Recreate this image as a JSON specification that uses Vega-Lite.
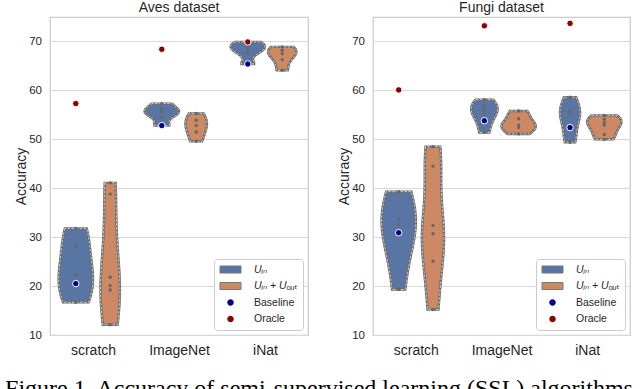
{
  "$schema": "https://vega.github.io/schema/vega-lite/v6.json",
  "padding": {"left": 5, "top": 0, "right": 0, "bottom": 0},
  "config": {
    "font": "Liberation Sans",
    "view": {"stroke": "#cccccc", "strokeWidth": 1.25},
    "axis": {"labelFont": "Liberation Sans", "labelFontSize": 11.5, "labelColor": "#262626", "titleFont": "Liberation Sans", "titleFontSize": 14, "titleFontWeight": "normal", "titleColor": "#262626", "gridColor": "#d9d9d9", "gridWidth": 1, "tickSize": 0},
    "axisX": {"labelFontSize": 14},
    "title": {"font": "Liberation Sans", "fontSize": 14, "fontWeight": "normal", "color": "#262626", "offset": 2},
    "legend": {"title": null, "orient": "bottom-right", "offset": 5, "fillColor": "white", "strokeColor": "#cccccc", "cornerRadius": 3, "padding": 5,
      "labelFont": "Liberation Sans, DejaVu Sans", "labelFontSize": 10.5, "labelColor": "#262626", "symbolSize": 100, "symbolOffset": 6, "labelOffset": 18, "rowPadding": 5.5, "symbolStrokeWidth": 1,
      "symbolType": {"expr": "(datum.value === 'Baseline' || datum.value === 'Oracle') ? 'M-0.65,0A0.65,0.65 0 1,0 0.65,0A0.65,0.65 0 1,0 -0.65,0Z' : 'M-2.1,-0.7H2.1V0.7H-2.1Z'"},
      "symbolStrokeColor": {"expr": "(datum.value === 'Baseline' || datum.value === 'Oracle') ? 'transparent' : '#777777'"},
      "labelFontStyle": {"expr": "(datum.value === 'Baseline' || datum.value === 'Oracle') ? 'normal' : 'italic'"}
    }
  },
  "datasets": {
    "obs": [
      {"panel": "Aves", "cat": "scratch", "hue": "U_in", "acc": 31.8},
      {"panel": "Aves", "cat": "scratch", "hue": "U_in", "acc": 28.1},
      {"panel": "Aves", "cat": "scratch", "hue": "U_in", "acc": 22.3},
      {"panel": "Aves", "cat": "scratch", "hue": "U_in", "acc": 20.5},
      {"panel": "Aves", "cat": "scratch", "hue": "U_in", "acc": 16.7},
      {"panel": "Aves", "cat": "scratch", "hue": "U_in + U_out", "acc": 41.1},
      {"panel": "Aves", "cat": "scratch", "hue": "U_in + U_out", "acc": 38.8},
      {"panel": "Aves", "cat": "scratch", "hue": "U_in + U_out", "acc": 21.8},
      {"panel": "Aves", "cat": "scratch", "hue": "U_in + U_out", "acc": 20.1},
      {"panel": "Aves", "cat": "scratch", "hue": "U_in + U_out", "acc": 19.2},
      {"panel": "Aves", "cat": "scratch", "hue": "U_in + U_out", "acc": 12.1},
      {"panel": "Aves", "cat": "ImageNet", "hue": "U_in", "acc": 57.3},
      {"panel": "Aves", "cat": "ImageNet", "hue": "U_in", "acc": 56.1},
      {"panel": "Aves", "cat": "ImageNet", "hue": "U_in", "acc": 55.6},
      {"panel": "Aves", "cat": "ImageNet", "hue": "U_in", "acc": 54.7},
      {"panel": "Aves", "cat": "ImageNet", "hue": "U_in", "acc": 52.8},
      {"panel": "Aves", "cat": "ImageNet", "hue": "U_in + U_out", "acc": 55.3},
      {"panel": "Aves", "cat": "ImageNet", "hue": "U_in + U_out", "acc": 53.9},
      {"panel": "Aves", "cat": "ImageNet", "hue": "U_in + U_out", "acc": 52.8},
      {"panel": "Aves", "cat": "ImageNet", "hue": "U_in + U_out", "acc": 51.5},
      {"panel": "Aves", "cat": "ImageNet", "hue": "U_in + U_out", "acc": 49.6},
      {"panel": "Aves", "cat": "iNat", "hue": "U_in", "acc": 69.9},
      {"panel": "Aves", "cat": "iNat", "hue": "U_in", "acc": 69.2},
      {"panel": "Aves", "cat": "iNat", "hue": "U_in", "acc": 68.6},
      {"panel": "Aves", "cat": "iNat", "hue": "U_in", "acc": 67.7},
      {"panel": "Aves", "cat": "iNat", "hue": "U_in", "acc": 65.4},
      {"panel": "Aves", "cat": "iNat", "hue": "U_in + U_out", "acc": 68.9},
      {"panel": "Aves", "cat": "iNat", "hue": "U_in + U_out", "acc": 68.2},
      {"panel": "Aves", "cat": "iNat", "hue": "U_in + U_out", "acc": 67.5},
      {"panel": "Aves", "cat": "iNat", "hue": "U_in + U_out", "acc": 66.3},
      {"panel": "Aves", "cat": "iNat", "hue": "U_in + U_out", "acc": 64.1},
      {"panel": "Fungi", "cat": "scratch", "hue": "U_in", "acc": 39.3},
      {"panel": "Fungi", "cat": "scratch", "hue": "U_in", "acc": 33.6},
      {"panel": "Fungi", "cat": "scratch", "hue": "U_in", "acc": 32.6},
      {"panel": "Fungi", "cat": "scratch", "hue": "U_in", "acc": 30.9},
      {"panel": "Fungi", "cat": "scratch", "hue": "U_in", "acc": 19.3},
      {"panel": "Fungi", "cat": "scratch", "hue": "U_in + U_out", "acc": 48.5},
      {"panel": "Fungi", "cat": "scratch", "hue": "U_in + U_out", "acc": 44.5},
      {"panel": "Fungi", "cat": "scratch", "hue": "U_in + U_out", "acc": 32.4},
      {"panel": "Fungi", "cat": "scratch", "hue": "U_in + U_out", "acc": 30.7},
      {"panel": "Fungi", "cat": "scratch", "hue": "U_in + U_out", "acc": 25.1},
      {"panel": "Fungi", "cat": "scratch", "hue": "U_in + U_out", "acc": 15.2},
      {"panel": "Fungi", "cat": "ImageNet", "hue": "U_in", "acc": 58.1},
      {"panel": "Fungi", "cat": "ImageNet", "hue": "U_in", "acc": 56.9},
      {"panel": "Fungi", "cat": "ImageNet", "hue": "U_in", "acc": 56.2},
      {"panel": "Fungi", "cat": "ImageNet", "hue": "U_in", "acc": 55.2},
      {"panel": "Fungi", "cat": "ImageNet", "hue": "U_in", "acc": 53.8},
      {"panel": "Fungi", "cat": "ImageNet", "hue": "U_in", "acc": 51.4},
      {"panel": "Fungi", "cat": "ImageNet", "hue": "U_in + U_out", "acc": 55.8},
      {"panel": "Fungi", "cat": "ImageNet", "hue": "U_in + U_out", "acc": 54.2},
      {"panel": "Fungi", "cat": "ImageNet", "hue": "U_in + U_out", "acc": 52.9},
      {"panel": "Fungi", "cat": "ImageNet", "hue": "U_in + U_out", "acc": 52.4},
      {"panel": "Fungi", "cat": "ImageNet", "hue": "U_in + U_out", "acc": 51.1},
      {"panel": "Fungi", "cat": "iNat", "hue": "U_in", "acc": 58.6},
      {"panel": "Fungi", "cat": "iNat", "hue": "U_in", "acc": 55.8},
      {"panel": "Fungi", "cat": "iNat", "hue": "U_in", "acc": 55.2},
      {"panel": "Fungi", "cat": "iNat", "hue": "U_in", "acc": 52.4},
      {"panel": "Fungi", "cat": "iNat", "hue": "U_in", "acc": 49.4},
      {"panel": "Fungi", "cat": "iNat", "hue": "U_in + U_out", "acc": 54.9},
      {"panel": "Fungi", "cat": "iNat", "hue": "U_in + U_out", "acc": 54.1},
      {"panel": "Fungi", "cat": "iNat", "hue": "U_in + U_out", "acc": 53.4},
      {"panel": "Fungi", "cat": "iNat", "hue": "U_in + U_out", "acc": 52.9},
      {"panel": "Fungi", "cat": "iNat", "hue": "U_in + U_out", "acc": 51.0},
      {"panel": "Fungi", "cat": "iNat", "hue": "U_in + U_out", "acc": 50.0}
    ],
    "ref": [
      {"panel": "Aves", "cat": "scratch", "kind": "Baseline", "acc": 20.5},
      {"panel": "Aves", "cat": "scratch", "kind": "Oracle", "acc": 57.3},
      {"panel": "Aves", "cat": "ImageNet", "kind": "Baseline", "acc": 52.8},
      {"panel": "Aves", "cat": "ImageNet", "kind": "Oracle", "acc": 68.4},
      {"panel": "Aves", "cat": "iNat", "kind": "Baseline", "acc": 65.4},
      {"panel": "Aves", "cat": "iNat", "kind": "Oracle", "acc": 69.9},
      {"panel": "Fungi", "cat": "scratch", "kind": "Baseline", "acc": 30.9},
      {"panel": "Fungi", "cat": "scratch", "kind": "Oracle", "acc": 60.1},
      {"panel": "Fungi", "cat": "ImageNet", "kind": "Baseline", "acc": 53.8},
      {"panel": "Fungi", "cat": "ImageNet", "kind": "Oracle", "acc": 73.2},
      {"panel": "Fungi", "cat": "iNat", "kind": "Baseline", "acc": 52.4},
      {"panel": "Fungi", "cat": "iNat", "kind": "Oracle", "acc": 73.7}
    ]
  },
  "title": {"text": "Figure 1. Accuracy of semi-supervised learning (SSL) algorithms", "orient": "bottom", "anchor": "start", "font": "Liberation Serif", "fontSize": 24, "fontWeight": "normal", "color": "#000000", "offset": 19},
  "spacing": 28,
  "resolve": {"scale": {"color": "independent", "x": "independent", "y": "independent"}, "legend": {"color": "independent"}},
  "hconcat": [
    {
      "width": 258, "height": 318,
      "title": {"text": "Aves dataset"},
      "layer": [
        {
          "data": {"name": "obs"},
          "transform": [
            {"filter": "datum.panel === 'Aves'"},
            {"density": "acc", "groupby": ["cat", "hue"], "steps": 100, "resolve": "independent", "as": ["acc", "density"]},
            {"joinaggregate": [{"op": "max", "field": "density", "as": "dmax"}], "groupby": ["cat"]},
            {"calculate": "indexof(['scratch','ImageNet','iNat'], datum.cat) + (datum.hue === 'U_in' ? -0.2 : 0.2)", "as": "center"},
            {"calculate": "datum.center - 0.2 * datum.density / datum.dmax", "as": "lo"},
            {"calculate": "datum.center + 0.2 * datum.density / datum.dmax", "as": "hi"}
          ],
          "layer": [
            {
              "mark": {"type": "area", "orient": "horizontal", "stroke": "#6a6a6a", "strokeWidth": 2.4, "opacity": 1},
              "encoding": {
                "y": {"field": "acc", "type": "quantitative", "title": ["", "Accuracy"], "scale": {"domain": [10, 75], "nice": false, "zero": false}, "axis": {"values": [10, 20, 30, 40, 50, 60, 70], "ticks": false, "domain": false, "labelPadding": 8.5, "titlePadding": 0, "titleLineHeight": 9, "grid": true}},
                "x": {"field": "lo", "type": "quantitative", "stack": null, "title": null, "scale": {"domain": [-0.5, 2.5], "nice": false, "zero": false}, "axis": {"values": [0, 1, 2], "labelExpr": "['scratch','ImageNet','iNat'][datum.value]", "ticks": false, "domain": false, "grid": false, "labelPadding": 8}},
                "x2": {"field": "hi"},
                "detail": {"field": "cat"},
                "color": {"field": "hue", "type": "nominal",
                  "scale": {"domain": ["U_in", "U_in + U_out", "Baseline", "Oracle"], "range": ["#5975a4", "#cc8963", "#00008b", "#8b0000"]},
                  "legend": {"labelExpr": "datum.label === 'U_in' ? 'Uᵢₙ' : datum.label === 'U_in + U_out' ? 'Uᵢₙ + Uₒᵤₜ' : datum.label"}
                }
              }
            },
            {
              "mark": {"type": "area", "orient": "horizontal", "fillOpacity": 0, "stroke": "#ffffff", "strokeWidth": 0.7, "strokeDash": [2.5, 1.5]},
              "encoding": {
                "y": {"field": "acc", "type": "quantitative"},
                "x": {"field": "lo", "type": "quantitative", "stack": null},
                "x2": {"field": "hi"},
                "detail": [{"field": "cat"}, {"field": "hue"}]
              }
            }
          ]
        },
        {
          "data": {"name": "obs"},
          "transform": [
            {"filter": "datum.panel === 'Aves'"},
            {"calculate": "indexof(['scratch','ImageNet','iNat'], datum.cat) + (datum.hue === 'U_in' ? -0.2 : 0.2)", "as": "center"}
          ],
          "mark": {"type": "circle", "size": 11, "color": "#666666", "opacity": 1},
          "encoding": {
            "x": {"field": "center", "type": "quantitative"},
            "y": {"field": "acc", "type": "quantitative"}
          }
        },
        {
          "data": {"name": "ref"},
          "transform": [
            {"filter": "datum.panel === 'Aves'"},
            {"calculate": "indexof(['scratch','ImageNet','iNat'], datum.cat) - 0.2", "as": "center"}
          ],
          "mark": {"type": "circle", "size": 42, "stroke": "white", "strokeWidth": 1, "opacity": 1},
          "encoding": {
            "x": {"field": "center", "type": "quantitative"},
            "y": {"field": "acc", "type": "quantitative"},
            "color": {"field": "kind", "type": "nominal"}
          }
        }
      ]
    },
    {
      "width": 257, "height": 318,
      "title": {"text": "Fungi dataset"},
      "layer": [
        {
          "data": {"name": "obs"},
          "transform": [
            {"filter": "datum.panel === 'Fungi' && datum.cat === 'scratch'"},
            {"density": "acc", "groupby": ["cat", "hue"], "steps": 100, "bandwidth": 6.5, "resolve": "independent", "as": ["acc", "density"]},
            {"joinaggregate": [{"op": "max", "field": "density", "as": "dmax"}], "groupby": ["cat"]},
            {"calculate": "indexof(['scratch','ImageNet','iNat'], datum.cat) + (datum.hue === 'U_in' ? -0.2 : 0.2)", "as": "center"},
            {"calculate": "datum.center - 0.2 * datum.density / datum.dmax", "as": "lo"},
            {"calculate": "datum.center + 0.2 * datum.density / datum.dmax", "as": "hi"}
          ],
          "layer": [
            {
              "mark": {"type": "area", "orient": "horizontal", "stroke": "#6a6a6a", "strokeWidth": 2.4, "opacity": 1},
              "encoding": {
                "y": {"field": "acc", "type": "quantitative", "title": "Accuracy", "scale": {"domain": [10, 75], "nice": false, "zero": false}, "axis": {"values": [10, 20, 30, 40, 50, 60, 70], "ticks": false, "domain": false, "labelPadding": 8.5, "titlePadding": 0, "grid": true}},
                "x": {"field": "lo", "type": "quantitative", "stack": null, "title": null, "scale": {"domain": [-0.5, 2.5], "nice": false, "zero": false}, "axis": {"values": [0, 1, 2], "labelExpr": "['scratch','ImageNet','iNat'][datum.value]", "ticks": false, "domain": false, "grid": false, "labelPadding": 8}},
                "x2": {"field": "hi"},
                "detail": {"field": "cat"},
                "color": {"field": "hue", "type": "nominal",
                  "scale": {"domain": ["U_in", "U_in + U_out", "Baseline", "Oracle"], "range": ["#5975a4", "#cc8963", "#00008b", "#8b0000"]},
                  "legend": {"labelExpr": "datum.label === 'U_in' ? 'Uᵢₙ' : datum.label === 'U_in + U_out' ? 'Uᵢₙ + Uₒᵤₜ' : datum.label"}
                }
              }
            },
            {
              "mark": {"type": "area", "orient": "horizontal", "fillOpacity": 0, "stroke": "#ffffff", "strokeWidth": 0.7, "strokeDash": [2.5, 1.5]},
              "encoding": {
                "y": {"field": "acc", "type": "quantitative"},
                "x": {"field": "lo", "type": "quantitative", "stack": null},
                "x2": {"field": "hi"},
                "detail": [{"field": "cat"}, {"field": "hue"}]
              }
            }
          ]
        },
        {
          "data": {"name": "obs"},
          "transform": [
            {"filter": "datum.panel === 'Fungi' && datum.cat !== 'scratch'"},
            {"density": "acc", "groupby": ["cat", "hue"], "steps": 100, "resolve": "independent", "as": ["acc", "density"]},
            {"joinaggregate": [{"op": "max", "field": "density", "as": "dmax"}], "groupby": ["cat"]},
            {"calculate": "indexof(['scratch','ImageNet','iNat'], datum.cat) + (datum.hue === 'U_in' ? -0.2 : 0.2)", "as": "center"},
            {"calculate": "datum.center - 0.2 * datum.density / datum.dmax", "as": "lo"},
            {"calculate": "datum.center + 0.2 * datum.density / datum.dmax", "as": "hi"}
          ],
          "layer": [
            {
              "mark": {"type": "area", "orient": "horizontal", "stroke": "#6a6a6a", "strokeWidth": 2.4, "opacity": 1},
              "encoding": {
                "y": {"field": "acc", "type": "quantitative"},
                "x": {"field": "lo", "type": "quantitative", "stack": null},
                "x2": {"field": "hi"},
                "detail": {"field": "cat"},
                "color": {"field": "hue", "type": "nominal"}
              }
            },
            {
              "mark": {"type": "area", "orient": "horizontal", "fillOpacity": 0, "stroke": "#ffffff", "strokeWidth": 0.7, "strokeDash": [2.5, 1.5]},
              "encoding": {
                "y": {"field": "acc", "type": "quantitative"},
                "x": {"field": "lo", "type": "quantitative", "stack": null},
                "x2": {"field": "hi"},
                "detail": [{"field": "cat"}, {"field": "hue"}]
              }
            }
          ]
        },
        {
          "data": {"name": "obs"},
          "transform": [
            {"filter": "datum.panel === 'Fungi'"},
            {"calculate": "indexof(['scratch','ImageNet','iNat'], datum.cat) + (datum.hue === 'U_in' ? -0.2 : 0.2)", "as": "center"}
          ],
          "mark": {"type": "circle", "size": 11, "color": "#666666", "opacity": 1},
          "encoding": {
            "x": {"field": "center", "type": "quantitative"},
            "y": {"field": "acc", "type": "quantitative"}
          }
        },
        {
          "data": {"name": "ref"},
          "transform": [
            {"filter": "datum.panel === 'Fungi'"},
            {"calculate": "indexof(['scratch','ImageNet','iNat'], datum.cat) - 0.2", "as": "center"}
          ],
          "mark": {"type": "circle", "size": 42, "stroke": "white", "strokeWidth": 1, "opacity": 1},
          "encoding": {
            "x": {"field": "center", "type": "quantitative"},
            "y": {"field": "acc", "type": "quantitative"},
            "color": {"field": "kind", "type": "nominal"}
          }
        }
      ]
    }
  ]
}
